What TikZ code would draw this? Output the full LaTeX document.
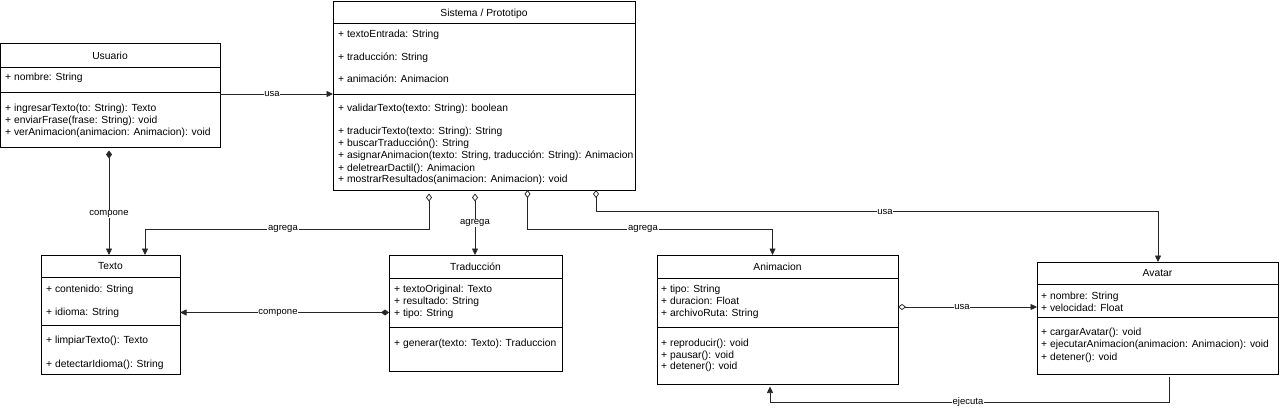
\documentclass[tikz,border=0pt]{standalone}
\usepackage{fontspec}
\setmainfont{Liberation Sans}
\usetikzlibrary{arrows.meta}
\begin{document}
\begin{tikzpicture}[x=1pt,y=-1pt,
  cls/.style={draw=black, line width=0.9pt, fill=white, anchor=north west, inner sep=0pt, outer sep=0pt},
  sep/.style={draw=black, line width=0.9pt},
  row/.style={anchor=west, inner sep=0pt, font=\fontsize{10.3}{12}\selectfont, text height=7.4pt, text depth=0pt},
  ttl/.style={anchor=center, inner sep=0pt, font=\fontsize{10.3}{12}\selectfont, text height=7.4pt, text depth=0pt},
  conn/.style={draw=black!85, line width=0.75pt},
  tipend/.style={-{Triangle[length=6.5pt,width=6pt]}},
  aggr/.style={{Diamond[open,length=8pt,width=6pt]}-{Triangle[length=6.5pt,width=6pt]}},
  comp/.style={{Diamond[length=8pt,width=6pt]}-{Triangle[length=6.5pt,width=6pt]}},
  lbl/.style={fill=white, inner sep=0.8pt, font=\fontsize{9.5}{11}\selectfont}
]
\useasboundingbox (0,0) rectangle (1280,409);

% ---------- Usuario ----------
\node[cls, minimum width=220pt, minimum height=104pt] (usu) at (0,43) {};
\draw[sep] (usu.west |- 0,67) -- (usu.east |- 0,67);
\draw[sep] (usu.west |- 0,92) -- (usu.east |- 0,92);
\node[ttl] (usuT) at (110,55.5) {Usuario};
\node[row] (usuA1) at (5,77) {+ nombre: String};
\node[row] (usuM1) at (5,108) {+ ingresarTexto(to: String): Texto};
\node[row] (usuM2) at (5,120) {+ enviarFrase(frase: String): void};
\node[row] (usuM3) at (5,131.5) {+ verAnimacion(animacion: Animacion): void};

% ---------- Sistema ----------
\node[cls, minimum width=302pt, minimum height=189pt] (sis) at (333,1) {};
\draw[sep] (sis.west |- 0,23) -- (sis.east |- 0,23);
\draw[sep] (sis.west |- 0,94) -- (sis.east |- 0,94);
\node[ttl] (sisT) at (484,13) {Sistema / Prototipo};
\node[row] (sisA1) at (338,34.3) {+ textoEntrada: String};
\node[row] (sisA2) at (338,56.7) {+ traducción: String};
\node[row] (sisA3) at (338,79.3) {+ animación: Animacion};
\node[row] (sisM1) at (338,108.3) {+ validarTexto(texto: String): boolean};
\node[row] (sisM2) at (338,130.5) {+ traducirTexto(texto: String): String};
\node[row] (sisM3) at (338,142.8) {+ buscarTraducción(): String};
\node[row] (sisM4) at (338,155.1) {+ asignarAnimacion(texto: String, traducción: String): Animacion};
\node[row] (sisM5) at (338,167.4) {+ deletrearDactil(): Animacion};
\node[row] (sisM6) at (338,179.2) {+ mostrarResultados(animacion: Animacion): void};

% ---------- Texto ----------
\node[cls, minimum width=139pt, minimum height=119pt] (txt) at (41,255) {};
\draw[sep] (txt.west |- 0,277) -- (txt.east |- 0,277);
\draw[sep] (txt.west |- 0,325) -- (txt.east |- 0,325);
\node[ttl] (txtT) at (110.5,266) {Texto};
\node[row] (txtA1) at (46,289) {+ contenido: String};
\node[row] (txtA2) at (46,311.7) {+ idioma: String};
\node[row] (txtM1) at (46,340) {+ limpiarTexto(): Texto};
\node[row] (txtM2) at (46,363.3) {+ detectarIdioma(): String};

% ---------- Traduccion ----------
\node[cls, minimum width=173pt, minimum height=116pt] (tra) at (389,255) {};
\draw[sep] (tra.west |- 0,278) -- (tra.east |- 0,278);
\draw[sep] (tra.west |- 0,327) -- (tra.east |- 0,327);
\node[ttl] (traT) at (475.5,266.7) {Traducción};
\node[row] (traA1) at (394,288.5) {+ textoOriginal: Texto};
\node[row] (traA2) at (394,300.7) {+ resultado: String};
\node[row] (traA3) at (394,312.7) {+ tipo: String};
\node[row] (traM1) at (394,342.3) {+ generar(texto: Texto): Traduccion};

% ---------- Animacion ----------
\node[cls, minimum width=241pt, minimum height=129pt] (ani) at (657,255) {};
\draw[sep] (ani.west |- 0,278) -- (ani.east |- 0,278);
\draw[sep] (ani.west |- 0,327) -- (ani.east |- 0,327);
\node[ttl] (aniT) at (777.5,266.7) {Animacion};
\node[row] (aniA1) at (661,289) {+ tipo: String};
\node[row] (aniA2) at (661,300.8) {+ duracion: Float};
\node[row] (aniA3) at (661,312.7) {+ archivoRuta: String};
\node[row] (aniM1) at (661,342.3) {+ reproducir(): void};
\node[row] (aniM2) at (661,354.3) {+ pausar(): void};
\node[row] (aniM3) at (661,366) {+ detener(): void};

% ---------- Avatar ----------
\node[cls, minimum width=241pt, minimum height=112pt] (ava) at (1037,262) {};
\draw[sep] (ava.west |- 0,284) -- (ava.east |- 0,284);
\draw[sep] (ava.west |- 0,317) -- (ava.east |- 0,317);
\node[ttl] (avaT) at (1157.5,272.7) {Avatar};
\node[row] (avaA1) at (1041,295.7) {+ nombre: String};
\node[row] (avaA2) at (1041,307.7) {+ velocidad: Float};
\node[row] (avaM1) at (1041,331.7) {+ cargarAvatar(): void};
\node[row] (avaM2) at (1041,344.2) {+ ejecutarAnimacion(animacion: Animacion): void};
\node[row] (avaM3) at (1041,356.7) {+ detener(): void};

% ---------- Connectors ----------
% Usuario -> Sistema (usa)
\draw[conn, tipend] (usu.east |- 0,94) -- (sis.west |- 0,94);
\node[lbl] (l1) at (272,94) {usa};
% Usuario -> Texto (compone)
\draw[conn, comp, shorten <=3.5pt] ([xshift=109pt]usu.south west) -- ([xshift=68pt]txt.north west);
\node[lbl] (l2) at (109,214) {compone};
% Sistema -> Texto (agrega)
\draw[conn, aggr, shorten <=3.5pt] ([xshift=96pt]sis.south west) -- ++(0,39) -| ([xshift=104pt]txt.north west);
\node[lbl] (l3) at (283,229) {agrega};
% Sistema -> Traduccion (agrega)
\draw[conn, aggr, shorten <=3.5pt] ([xshift=142pt]sis.south west) -- ([xshift=86pt]tra.north west);
\node[lbl] (l4) at (475,223) {agrega};
% Sistema -> Animacion (agrega)
\draw[conn, aggr] ([xshift=194.5pt]sis.south west) -- ++(0,39) -| ([xshift=115.5pt]ani.north west);
\node[lbl] (l5) at (643,229) {agrega};
% Sistema -> Avatar (usa)
\draw[conn, aggr] ([xshift=263pt]sis.south west) -- ++(0,21.5) -| ([xshift=121pt]ava.north west);
\node[lbl] (l6) at (885,211.5) {usa};
% Traduccion -> Texto (compone)
\draw[conn, comp] (tra.west |- 0,312.5) -- (txt.east |- 0,312.5);
\node[lbl] (l7) at (278,312.5) {compone};
% Animacion -> Avatar (usa)
\draw[conn, aggr] (ani.east |- 0,307) -- (ava.west |- 0,307);
\node[lbl] (l8) at (962,307) {usa};
% Avatar -> Animacion (ejecuta)
\draw[conn, tipend, shorten <=2.5pt, shorten >=2.5pt] ([xshift=132pt]ava.south west) -- ++(0,28) -| ([xshift=113pt]ani.south west);
\node[lbl] (l9) at (968,402) {ejecuta};
\end{tikzpicture}
\end{document}
